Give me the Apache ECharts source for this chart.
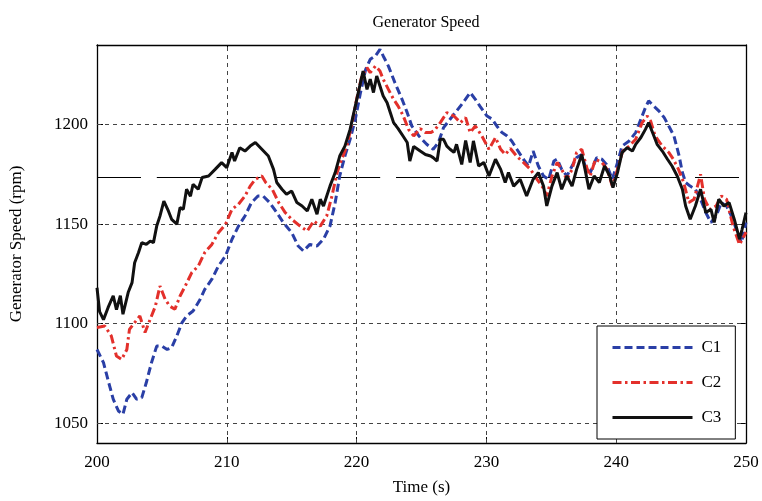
<!DOCTYPE html>
<html><head><meta charset="utf-8">
<script src="https://cdn.jsdelivr.net/npm/echarts@6/dist/echarts.min.js"></script>
<style>html,body{margin:0;padding:0;background:#fff}#c{width:762px;height:501px}</style>
</head><body><div id="c"></div>
<script>
const seriesNames = ['C1', 'C2', 'C3'];
const xTicks = [200, 210, 220, 230, 240, 250];
const yTicks = [1050, 1100, 1150, 1200];
const ratedSpeed = 1173.7;

const c1Time = [200.0,200.3,200.5,200.9,201.25,201.65,202.0,202.3,202.7,203.05,203.45,203.8,204.2,204.6,205.0,205.4,205.75,206.15,206.55,206.9,207.4,207.95,208.3,208.85,209.35,209.9,210.4,210.9,211.4,211.9,212.4,212.8,213.3,213.85,214.35,215.0,215.5,215.9,216.4,216.95,217.45,217.95,218.35,218.7,219.1,219.5,219.9,220.3,220.7,221.05,221.45,221.8,222.05,222.45,222.95,223.5,223.9,224.25,224.8,225.4,225.9,226.3,226.7,227.2,227.7,228.2,228.75,229.15,229.5,230.05,230.45,230.8,231.2,231.6,231.95,232.35,232.85,233.25,233.6,234.0,234.4,234.8,235.2,235.45,235.8,236.2,236.6,236.95,237.35,237.6,238.0,238.5,238.9,239.25,239.7,240.1,240.45,241.0,241.5,241.9,242.25,242.5,242.9,243.3,243.7,244.05,244.45,244.85,245.1,245.35,245.7,246.1,246.5,246.9,247.3,247.7,248.1,248.5,249.0,249.4,249.65,250.0];
const c1Speed = [1087,1083,1080.4,1070.4,1062,1056.1,1054.4,1062,1065.3,1062,1062.8,1070.4,1080.4,1088.7,1088.7,1087,1087.9,1093.8,1100.5,1103.8,1106.3,1112.2,1117.2,1122.3,1128.9,1134,1142.4,1149,1154.1,1160.8,1164.1,1164.1,1160.8,1155.8,1150.8,1145.7,1139,1136.5,1139.8,1139,1142.4,1149,1160.8,1174.2,1184.2,1192.6,1202.7,1216.1,1227.8,1232.8,1234.5,1237.8,1234.5,1229.4,1221.1,1212.7,1206,1199.3,1194.3,1190.1,1187.6,1191,1198.5,1202.7,1206.8,1211,1216.1,1212.7,1209.3,1204.3,1202.7,1199.3,1196,1194.3,1191.8,1187.6,1182.6,1179.2,1186.7,1179.2,1174.2,1172.5,1181.7,1182.6,1177.5,1174.2,1179.2,1183.4,1185,1179.2,1175.9,1183.4,1182.6,1180,1172.5,1180.9,1189.2,1191.8,1196,1202.7,1208.5,1211.9,1209.3,1206.8,1203.5,1199.3,1194.3,1184.2,1175.9,1170.9,1169.1,1167.5,1162.5,1155.8,1150.8,1154.1,1160.8,1159.1,1152.4,1144,1140.7,1150.8];

const c2Time = [200.0,200.6,201.1,201.5,201.9,202.3,202.5,202.9,203.3,203.7,204.1,204.5,204.85,205.25,205.6,206.0,206.4,206.8,207.3,207.8,208.3,208.85,209.35,209.9,210.4,210.9,211.4,211.8,212.2,212.7,213.0,213.5,214.0,214.5,215.0,215.65,216.2,216.7,217.2,217.7,218.1,218.5,218.85,219.25,219.6,220.0,220.4,220.8,221.05,221.45,221.8,222.05,222.45,222.85,223.2,223.6,224.0,224.4,224.9,225.3,225.7,226.0,226.45,226.95,227.5,228.0,228.4,228.75,229.15,229.65,230.2,230.7,231.1,231.45,231.85,232.35,232.85,233.4,233.9,234.4,234.65,235.05,235.45,235.8,236.2,236.6,236.95,237.35,237.75,238.0,238.4,238.9,239.3,239.7,240.1,240.5,241.0,241.5,242.0,242.4,242.65,243.0,243.55,244.05,244.4,244.8,245.2,245.6,246.0,246.5,246.8,247.2,247.7,248.1,248.5,249.0,249.5,249.85,250.0];
const c2Speed = [1098,1098.8,1093.8,1083.7,1082,1087,1097.1,1100.5,1103.8,1095.5,1102.2,1108.8,1118.9,1112.2,1108.8,1107.2,1113.9,1118.9,1125.6,1128.9,1135.7,1139.8,1145.7,1149.9,1157.4,1160,1164.1,1169.1,1172.5,1174.2,1170.9,1167.5,1160.8,1155.8,1152.4,1149,1146.5,1151.6,1149,1154.1,1164.1,1175.9,1182.6,1189.2,1199.3,1212.7,1224.4,1228.6,1226.1,1229.4,1226.9,1222.8,1217.7,1212.7,1209.3,1204.3,1197.6,1194.3,1198,1196,1196,1197,1201,1206,1204.3,1201,1203.5,1196,1199.3,1194.3,1187.6,1193.5,1187.6,1185,1188,1184,1181,1177.5,1172.5,1168,1164.1,1174,1181,1177.5,1172.5,1177.5,1186,1187.6,1178,1174.2,1182.6,1181,1177.5,1169.1,1177.5,1186.7,1189.2,1192.6,1201,1204.3,1201.8,1194.3,1189.2,1186,1182.6,1177.5,1170.9,1160.8,1162.5,1175,1162.5,1157.4,1159.1,1164.1,1162.5,1149,1139.8,1144,1146];

const c3Time = [200.0,200.2,200.5,200.85,201.25,201.5,201.8,202.0,202.4,202.7,202.9,203.2,203.45,203.8,204.1,204.35,204.6,204.85,205.15,205.5,205.75,206.15,206.4,206.65,206.9,207.2,207.4,207.8,208.1,208.6,209.1,209.6,210.0,210.4,210.6,211.0,211.4,211.8,212.2,212.7,213.2,213.6,213.85,214.25,214.6,215.0,215.4,215.8,216.2,216.55,216.95,217.2,217.45,217.7,217.95,218.35,218.7,219.1,219.5,219.9,220.3,220.5,220.8,221.05,221.3,221.55,221.8,222.05,222.35,222.6,222.85,223.2,223.6,223.9,224.1,224.4,224.9,225.3,225.7,225.9,226.2,226.45,226.7,226.95,227.2,227.5,227.7,227.85,228.1,228.4,228.75,229.0,229.4,229.8,230.2,230.7,231.1,231.45,231.7,232.1,232.6,233.1,233.6,234.0,234.4,234.65,235.05,235.45,235.8,236.2,236.6,236.95,237.35,237.6,237.9,238.3,238.7,239.1,239.5,239.75,240.1,240.45,240.85,241.25,241.5,241.9,242.25,242.5,242.8,243.15,243.55,243.95,244.3,244.7,245.1,245.35,245.7,246.1,246.5,246.9,247.3,247.55,247.9,248.3,248.7,249.1,249.5,249.7,250.0];
const c3Speed = [1118,1106,1102,1108,1114,1107,1114,1104.7,1115.6,1120.6,1130.6,1135.7,1140.7,1139.8,1141.5,1140.7,1149,1154,1161.6,1156.6,1152.4,1150,1158.3,1157.4,1167.5,1164,1170,1167.5,1173.4,1174.2,1177.5,1180.9,1178.4,1186,1181.7,1188.4,1186.7,1189.2,1191,1187.6,1184.2,1177.5,1170.9,1167.5,1165,1166.6,1160.8,1159.1,1156.6,1162.5,1155,1162.5,1159.1,1164.1,1169.1,1175.9,1184.2,1189.2,1197.6,1209.3,1221.1,1226.9,1217.7,1222.8,1216.1,1224.4,1219.4,1214.4,1211,1206,1201,1198,1194,1191,1181.7,1189,1186.7,1185,1184.2,1183.4,1181.7,1192.6,1192.6,1189.2,1187.6,1186,1190.1,1191,1180,1192,1181,1191.8,1179.2,1181,1174.2,1182.6,1177.5,1170.9,1175.9,1169.1,1172.5,1164.1,1172.5,1175.9,1169.1,1159.1,1169.1,1175.9,1167.5,1174.2,1169.1,1177.5,1185,1177.5,1167.5,1174.2,1170.9,1179.2,1174.2,1168.3,1175.9,1185.9,1188.4,1186.7,1190.1,1193.5,1197.6,1201,1196,1190.1,1186.7,1182.6,1179.2,1174.2,1167.5,1159.1,1152.4,1159.1,1167.5,1155.8,1157.4,1150.8,1162.5,1159.1,1160.8,1152.4,1142.4,1147.4,1155.8];

const pairs = (t, v) => t.map((x, i) => [x, v[i]]);
const FONT = 'Liberation Serif';

const chart = echarts.init(document.getElementById('c'), null, {renderer: 'canvas'});
const gridLine = {color: '#444', width: 1, type: [4, 4]};
const tickStyle = {show: true, inside: true, length: 6, lineStyle: {color: '#000', width: 1}};
const axisLineStyle = {show: true, lineStyle: {color: '#000', width: 1.3}};

chart.setOption({
  animation: false,
  backgroundColor: '#fff',
  title: {
    text: 'Generator Speed', left: 421, top: 10, textAlign: 'center',
    textStyle: {fontFamily: FONT, fontSize: 16, fontWeight: 'normal', color: '#000'}
  },
  grid: {left: 97, right: 16, top: 45, bottom: 57, containLabel: false},
  legend: {
    data: seriesNames,
    orient: 'vertical',
    left: 597, top: 326,
    padding: [13, 14, 13, 14],
    itemWidth: 80, itemHeight: 14, itemGap: 18,
    backgroundColor: '#fff', borderColor: '#000', borderWidth: 1,
    itemStyle: {opacity: 0},
    lineStyle: {width: 3},
    textStyle: {fontFamily: FONT, fontSize: 17, color: '#000', padding: [0, 0, 0, 4]}
  },
  xAxis: [
    {
      type: 'value', min: 200, max: 250, interval: 10, position: 'bottom',
      name: 'Time (s)', nameLocation: 'middle', nameGap: 36,
      nameTextStyle: {fontFamily: FONT, fontSize: 17, color: '#000'},
      axisLabel: {fontFamily: FONT, fontSize: 17, color: '#000', margin: 11, formatter: v => String(v)},
      axisLine: axisLineStyle, axisTick: tickStyle, splitLine: {show: false}
    },
    {
      type: 'value', min: 200, max: 250, interval: 10, position: 'top',
      axisLabel: {show: false},
      axisLine: axisLineStyle, axisTick: tickStyle, splitLine: {show: false}
    }
  ],
  yAxis: [
    {
      type: 'value', min: 1040, max: 1240, position: 'left',
      name: 'Generator Speed (rpm)', nameLocation: 'middle', nameGap: 72,
      nameTextStyle: {fontFamily: FONT, fontSize: 17, color: '#000'},
      axisLabel: {fontFamily: FONT, fontSize: 17, color: '#000', margin: 9, customValues: yTicks, formatter: v => String(v)},
      axisLine: axisLineStyle,
      axisTick: Object.assign({customValues: yTicks}, tickStyle),
      splitLine: {show: false}
    },
    {
      type: 'value', min: 1040, max: 1240, position: 'right',
      axisLabel: {show: false, customValues: yTicks},
      axisLine: axisLineStyle,
      axisTick: Object.assign({customValues: yTicks}, tickStyle),
      splitLine: {show: false}
    }
  ],
  series: [
    {
      name: 'grid', type: 'line', data: [], silent: true, xAxisIndex: 0, yAxisIndex: 0,
      markLine: {
        silent: true, symbol: 'none', z: 1, animation: false,
        label: {show: false},
        data: xTicks.slice(1, -1).map(x => ({xAxis: x, lineStyle: gridLine}))
          .concat(yTicks.map(y => ({yAxis: y, lineStyle: gridLine})))
          .concat([{yAxis: ratedSpeed, lineStyle: {color: '#000', width: 1, type: [44, 15.8]}}])
      }
    },
    {
      name: 'C1', type: 'line', data: pairs(c1Time, c1Speed), showSymbol: false, symbol: 'none', z: 3,
      lineStyle: {color: '#2A3FA6', width: 3, type: [8, 4]}, itemStyle: {color: '#2A3FA6'}
    },
    {
      name: 'C2', type: 'line', data: pairs(c2Time, c2Speed), showSymbol: false, symbol: 'none', z: 4,
      lineStyle: {color: '#E3302B', width: 3, type: [9, 3.5, 2.5, 3.5]}, itemStyle: {color: '#E3302B'}
    },
    {
      name: 'C3', type: 'line', data: pairs(c3Time, c3Speed), showSymbol: false, symbol: 'none', z: 5,
      lineStyle: {color: '#111', width: 3}, itemStyle: {color: '#111'}
    }
  ]
});
</script>
</body></html>
